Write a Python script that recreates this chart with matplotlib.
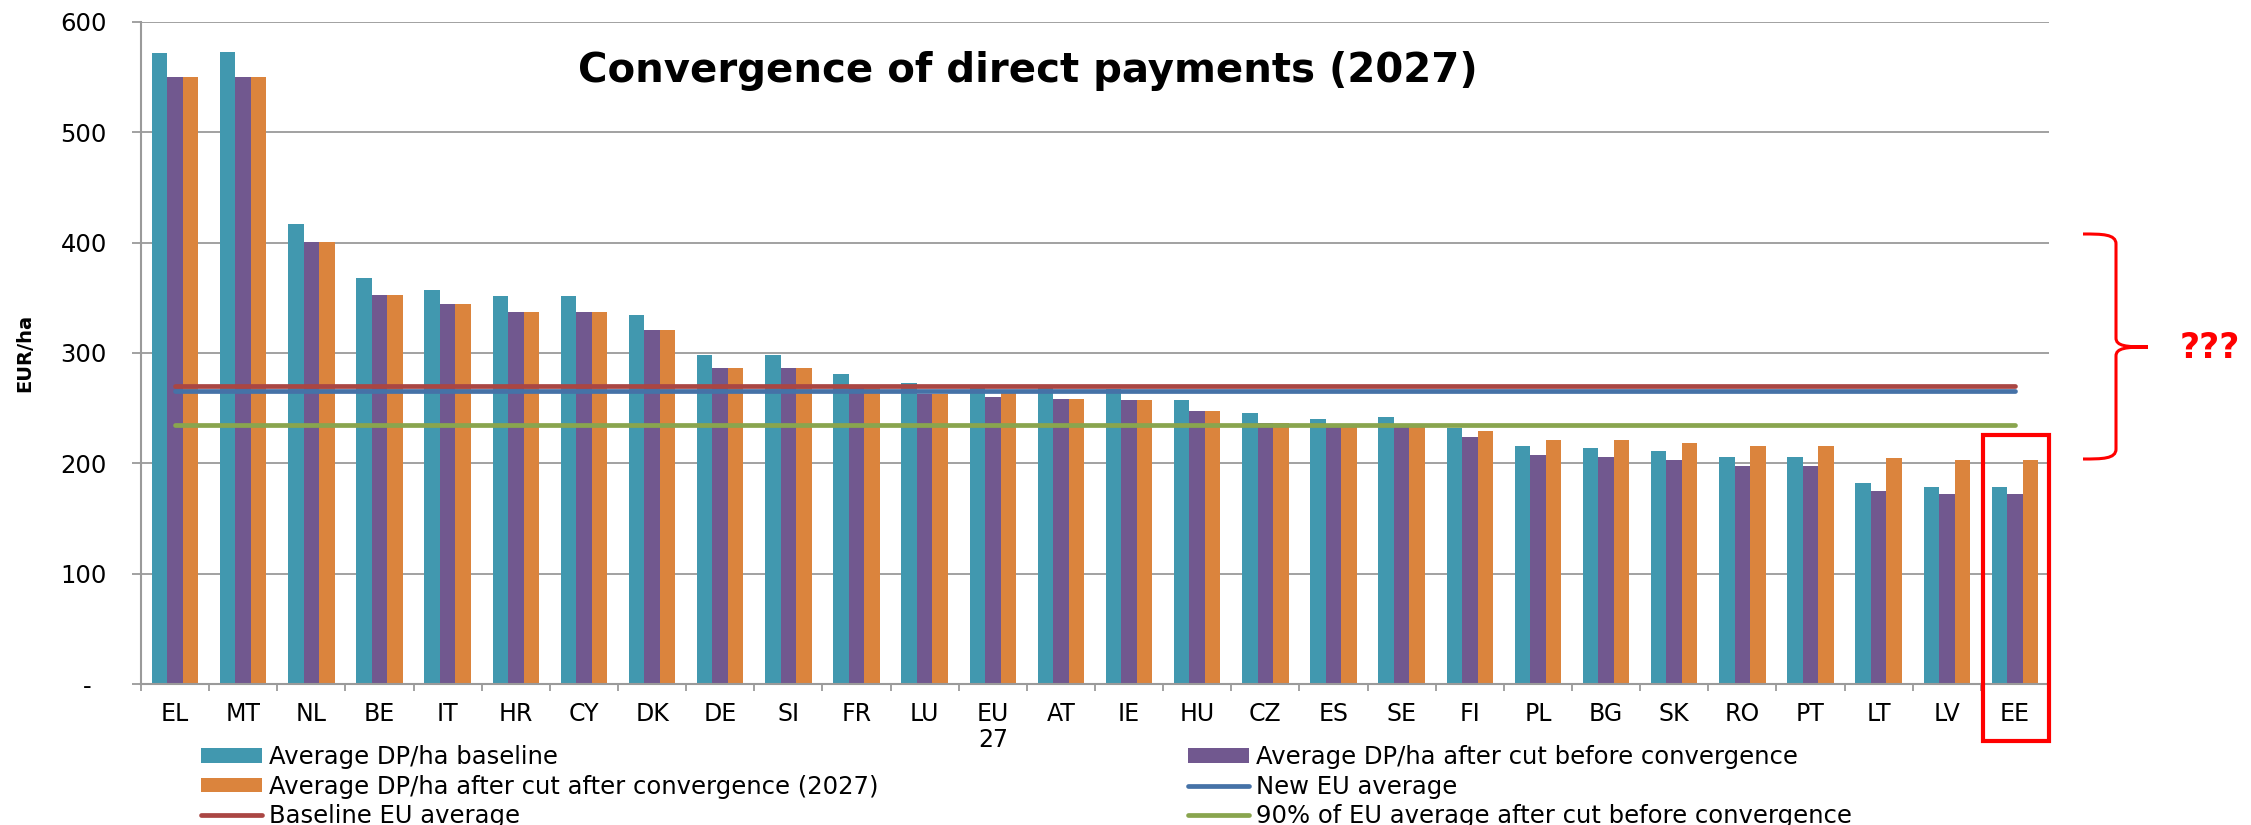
import numpy as np
import matplotlib
matplotlib.use("Agg")
import matplotlib.pyplot as plt
from matplotlib.patches import Rectangle, PathPatch
from matplotlib.path import Path
from matplotlib.lines import Line2D

plt.rcParams['font.family'] = ['DejaVu Sans']

# Member states, sorted by baseline DP/ha
categories = ['EL', 'MT', 'NL', 'BE', 'IT', 'HR', 'CY', 'DK', 'DE', 'SI', 'FR', 'LU', 'EU\n27', 'AT',
              'IE', 'HU', 'CZ', 'ES', 'SE', 'FI', 'PL', 'BG', 'SK', 'RO', 'PT', 'LT', 'LV', 'EE']

# EUR/ha
dp_baseline = [572, 573, 417, 368, 357, 352, 352, 334, 298, 298, 281, 273, 270, 268,
               267, 257, 246, 240, 242, 232, 216, 214, 211, 206, 206, 182, 179, 179]
dp_after_cut = [550, 550, 401, 353, 344, 337, 337, 321, 286, 286, 268, 263, 260, 258,
                257, 247, 237, 233, 233, 224, 208, 206, 203, 198, 198, 175, 172, 172]
dp_after_conv = [550, 550, 401, 353, 344, 337, 337, 321, 286, 286, 268, 263, 265, 258,
                 257, 247, 237, 233, 233, 229, 221, 221, 218, 216, 216, 205, 203, 203]

baseline_eu_avg = 270.3
new_eu_avg = 265.6
eu90_after_cut = 234.8

highlight = 'EE'

yticks = [0, 100, 200, 300, 400, 500, 600]

C_TEAL = '#4198AF'
C_PURPLE = '#71588F'
C_ORANGE = '#DB843D'
C_RED = '#AA4643'
C_BLUE = '#4572A7'
C_GREEN = '#89A54E'
C_GRID = '#9A9A9A'

W, H = 2251, 825
fig = plt.figure(figsize=(W / 100, H / 100), dpi=100)
ax = fig.add_axes([141 / W, 1 - 684 / H, 1908 / W, 662 / H])

x = np.arange(len(categories))
bw = 0.2275
b1 = ax.bar(x - bw, dp_baseline, bw, color=C_TEAL, zorder=2)
b2 = ax.bar(x, dp_after_cut, bw, color=C_PURPLE, zorder=2)
b3 = ax.bar(x + bw, dp_after_conv, bw, color=C_ORANGE, zorder=2)

lw_line = 3.4
ax.hlines(baseline_eu_avg, x[0], x[-1], colors=C_RED, linewidth=lw_line, capstyle='round', zorder=3)
ax.hlines(new_eu_avg, x[0], x[-1], colors=C_BLUE, linewidth=lw_line, capstyle='round', zorder=3)
ax.hlines(eu90_after_cut, x[0], x[-1], colors=C_GREEN, linewidth=lw_line, capstyle='round', zorder=3)

ax.set_xlim(-0.5, len(categories) - 0.5)
ax.set_ylim(0, 600)

# grid + spines
ax.set_yticks(yticks)
ax.set_yticklabels(['-  ' if v == 0 else str(v) for v in yticks])
ax.yaxis.grid(True, color=C_GRID, linewidth=1.3, zorder=0)
ax.set_axisbelow(True)
for s in ['top', 'right']:
    ax.spines[s].set_visible(False)
for s in ['left', 'bottom']:
    ax.spines[s].set_color(C_GRID)
    ax.spines[s].set_linewidth(1.5)
ax.tick_params(axis='y', length=6.5, width=1.3, color=C_GRID, pad=18, labelsize=17.5)

ax.set_xticks(x)
ax.set_xticklabels(categories, fontsize=17, linespacing=1.1)
ax.set_xticks(np.arange(len(categories) + 1) - 0.5, minor=True)
ax.tick_params(axis='x', which='major', length=0, pad=13)
ax.tick_params(axis='x', which='minor', length=5, width=1.3, color=C_GRID)

# title and axis label
fig.text(1028 / W, 1 - 71 / H, 'Convergence of direct payments (2027)',
         ha='center', va='center', fontsize=29, fontweight='bold')
fig.text(25 / W, 1 - 353 / H, 'EUR/ha', rotation=90, ha='center', va='center',
         fontsize=14, fontweight='bold')

# legends (two columns)
h_base = Line2D([], [], color=C_RED, lw=lw_line, solid_capstyle='round')
h_new = Line2D([], [], color=C_BLUE, lw=lw_line, solid_capstyle='round')
h_90 = Line2D([], [], color=C_GREEN, lw=lw_line, solid_capstyle='round')
leg_kw = dict(loc='upper left', frameon=False, fontsize=17.5, borderpad=0, borderaxespad=0,
              handlelength=2.5, handleheight=0.53, handletextpad=0.29, labelspacing=0.23)
fig.legend([b1, b3, h_base],
           ['Average DP/ha baseline',
            'Average DP/ha after cut after convergence (2027)',
            'Baseline EU average'],
           bbox_to_anchor=(201 / W, 1 - 745 / H), **leg_kw)
fig.legend([b2, h_new, h_90],
           ['Average DP/ha after cut before convergence',
            'New EU average',
            '90% of EU average after cut before convergence'],
           bbox_to_anchor=(1188 / W, 1 - 745 / H), **leg_kw)

# red box around the highlighted country
i = categories.index(highlight)
ax.add_patch(Rectangle((i - 0.47, -52), 0.97, 278, fill=False, edgecolor='red',
                       linewidth=3, clip_on=False, zorder=5))

# curly brace + question marks (figure pixels, y down)
def fp(px, py):
    return (px / W, 1 - py / H)

verts = [fp(2083, 234), fp(2102, 234), fp(2116, 234), fp(2116, 244),
         fp(2116, 338),
         fp(2116, 346), fp(2126, 347), fp(2148, 347),
         fp(2126, 347), fp(2116, 348), fp(2116, 356),
         fp(2116, 449),
         fp(2116, 459), fp(2102, 459), fp(2083, 459)]
codes = [Path.MOVETO, Path.CURVE4, Path.CURVE4, Path.CURVE4,
         Path.LINETO,
         Path.CURVE4, Path.CURVE4, Path.CURVE4,
         Path.CURVE4, Path.CURVE4, Path.CURVE4,
         Path.LINETO,
         Path.CURVE4, Path.CURVE4, Path.CURVE4]
fig.add_artist(PathPatch(Path(verts, codes), fill=False, edgecolor='red', linewidth=2.2,
                         transform=fig.transFigure))
fig.text(2180 / W, 1 - 348 / H, '???', color='red', fontsize=25, fontweight='bold',
         ha='left', va='center')

fig.savefig('out.png', dpi=100)
